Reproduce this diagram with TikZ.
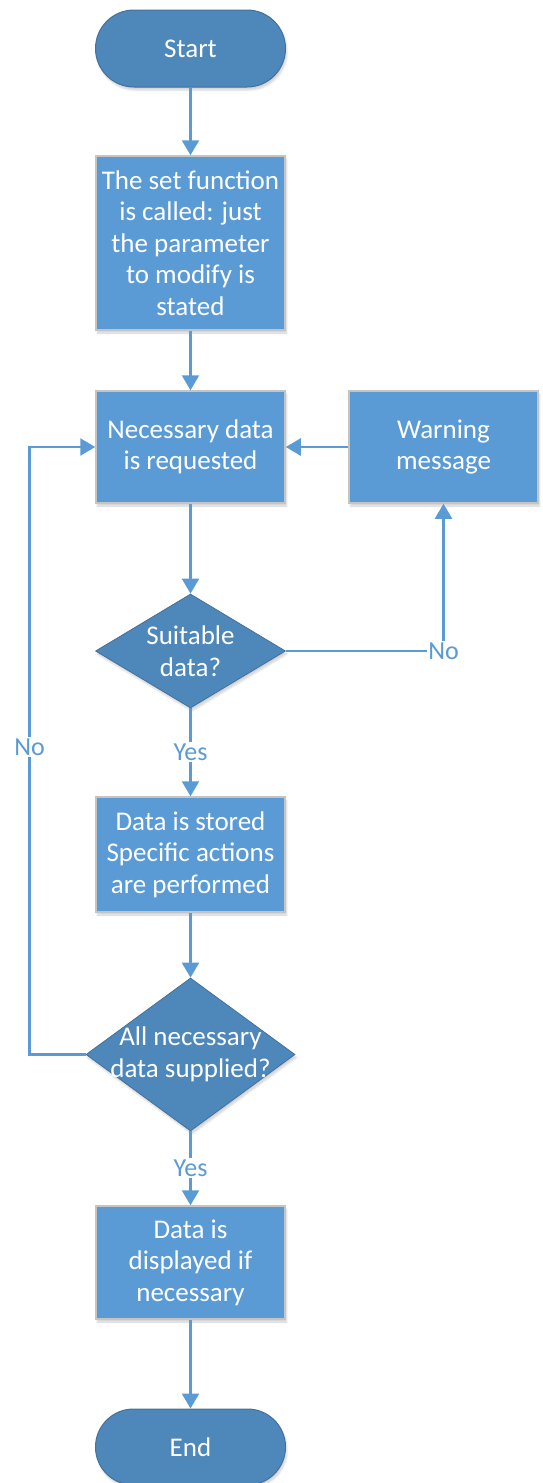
\documentclass[tikz,border=0pt]{standalone}
\usepackage{fontspec}
\setmainfont{Carlito}
\usetikzlibrary{shapes.geometric,shapes.misc,arrows.meta,calc,shadows.blur}
\definecolor{boxblue}{HTML}{5B9BD5}
\definecolor{darkblue}{HTML}{4E87BA}
\definecolor{edgeblue}{HTML}{41719C}
\definecolor{boxedge}{HTML}{C4C4C4}
\definecolor{lineblue}{HTML}{5B9BD5}
\begin{document}
\begin{tikzpicture}[x=1pt,y=-1pt,
  txt/.style={text=white,font=\fontsize{27}{31.5}\selectfont,align=center},
  shade/.style={blur shadow={shadow xshift=1.5pt,shadow yshift=-3pt,shadow blur steps=6,shadow opacity=18}},
  procbox/.style={txt,rectangle,fill=boxblue,draw=boxedge,line width=1.5pt,
    minimum width=189pt,inner sep=0pt,shade},
  terminal/.style={txt,rounded rectangle,fill=darkblue,draw=edgeblue,line width=1pt,
    minimum width=190pt,inner sep=0pt,shade},
  decision/.style={diamond,fill=darkblue,draw=edgeblue,line width=0.8pt,inner sep=0pt,shade},
  conn/.style={draw=lineblue,line width=2.4pt,-{Triangle[width=17pt,length=15pt]}},
  lbl/.style={text=lineblue,font=\fontsize{26}{30}\selectfont,fill=white,inner sep=1.5pt}
]
\useasboundingbox (0,0) rectangle (542,1483);

% main column
\node[terminal,minimum height=77pt] (start) at (190.5,48.5) {Start};
\node[procbox,minimum height=174pt] (set) at (190.5,243)
  {The set function\\is called: just\\the parameter\\to modify is\\stated};
\node[procbox,minimum height=112pt] (req) at (190.5,447) {Necessary data\\is requested};
\node[procbox,minimum height=112pt] (warn) at (443.5,447) {Warning\\message};
\node[decision,minimum width=190pt,minimum height=114pt,
  label={[txt]center:Suitable\\data?}] (suit) at (190.5,651) {};
\node[procbox,minimum height=115pt] (store) at (190.5,854.5)
  {Data is stored\\Specific actions\\are performed};
\node[decision,minimum width=209pt,minimum height=153pt,
  label={[txt]center:All necessary\\data supplied?}] (all) at (190.5,1054.5) {};
\node[procbox,minimum height=113pt] (show) at (190.5,1262.5)
  {Data is\\displayed if\\necessary};
\node[terminal,minimum height=76pt] (end) at (190.5,1447) {End};

\coordinate (loop) at (29.5,1054.5);

% connectors
\draw[conn] (start.south) -- (set.north);
\draw[conn] (set.south) -- (req.north);
\draw[conn] (req.south) -- (suit.north);
\draw[conn] (suit.east) -| node[lbl,pos=0.5] {No} (warn.south);
\draw[conn] (warn.west) -- (req.east);
\draw[conn] (suit.south) -- node[lbl] {Yes} (store.north);
\draw[conn] (store.south) -- (all.north);
\draw[conn] (all.west) -- (loop) |- node[lbl,pos=0.253] {No} (req.west);
\draw[conn] (all.south) -- node[lbl] {Yes} (show.north);
\draw[conn] (show.south) -- (end.north);
\end{tikzpicture}
\end{document}
